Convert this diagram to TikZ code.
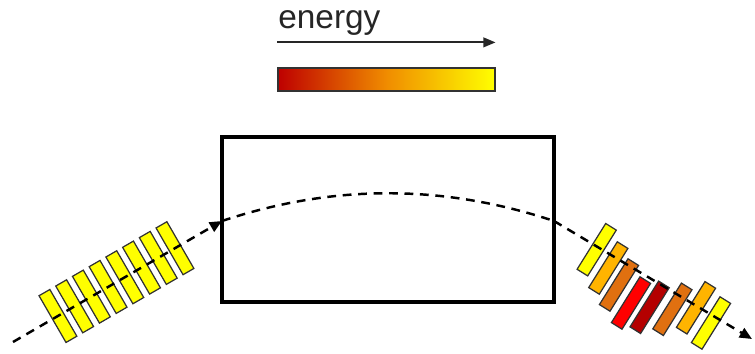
\documentclass[tikz,border=0pt]{standalone}
\usepackage{fontspec}
\setmainfont{Liberation Sans}
\usetikzlibrary{positioning,arrows.meta,calc}
\definecolor{mgYellow}{RGB}{255,255,0}
\definecolor{mgAmber}{RGB}{255,180,0}
\definecolor{mgOrange}{RGB}{224,112,16}
\definecolor{mgRed}{RGB}{255,0,0}
\definecolor{mgDark}{RGB}{180,0,0}
\definecolor{mgEdge}{RGB}{50,50,50}
\definecolor{barLow}{RGB}{190,0,0}
\definecolor{barMid}{RGB}{240,140,0}
\tikzset{
    base/.style={font=\fontsize{19}{22}\selectfont, text=black!85, inner sep=0pt},
    magnet/.style={rectangle, draw=mgEdge, line width=0.7pt, inner sep=0pt,
                   minimum width=0.25cm, minimum height=1.08cm},
    dipole/.style={rectangle, draw=black, line width=2.4pt, inner sep=0pt,
                   minimum width=6.64cm, minimum height=3.3cm},
    scalebar/.style={rectangle, draw=mgEdge, line width=0.7pt, inner sep=0pt,
                     minimum width=4.34cm, minimum height=0.46cm,
                     left color=barLow, right color=mgYellow, middle color=barMid},
    beam/.style={black, line width=1.4pt, dash pattern=on 5pt off 3.8pt},
    tip/.style={-{Triangle[length=7pt, width=6pt]}},
    flow/.style={-{Triangle[length=7pt, width=5.5pt]}, line width=1.2pt, black!85}
}
\begin{document}
\begin{tikzpicture}[x=0.02cm, y=-0.02cm]
  \useasboundingbox (0,0) rectangle (755,354);

  % Energy scale
  \node[scalebar] (scale) at (386.5,79.5) {};
  \node[base, anchor=base west] (energy) at (278,28.5) {energy};
  \coordinate (eTail) at ([yshift=0.5cm]scale.north west);
  \coordinate (eHead) at ([yshift=0.5cm]scale.north east);
  \draw[flow] (eTail) -- (eHead);

  % Bending magnet
  \node[dipole] (bend) at (388,219.5) {};
  \coordinate (start) at (13,342);
  \coordinate (entry) at (222,221);
  \coordinate (exit) at (554,221);
  \coordinate (finish) at (752,339);

  % Incoming magnets
  \foreach \i [evaluate=\i as \t using 0.215+0.08*\i] in {0,...,7}
    \node[magnet, fill=mgYellow, rotate=30] (in\i) at ($(start)!\t!(entry)$) {};

  % Outgoing magnets
  \foreach \x/\y/\c [count=\i] in {596.7/249.7/mgYellow, 608.3/268/mgAmber,
      619/285/mgOrange, 631/303/mgRed, 649.6/307.3/mgDark,
      672.4/309.3/mgOrange, 696/307.8/mgAmber, 711/323/mgYellow}
    \node[magnet, fill=\c, rotate=-32] (out\i) at (\x,\y) {};

  % Beam path
  \draw[beam, tip] (start) -- (entry);
  \draw[beam] (entry) .. controls (333,184) and (443,184) .. (exit);
  \draw[beam, tip] (exit) -- (finish);
\end{tikzpicture}
\end{document}
